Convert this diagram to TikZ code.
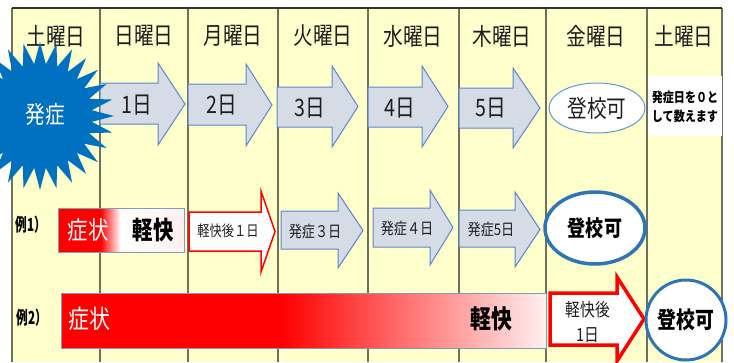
\documentclass[tikz,border=0pt]{standalone}
\usepackage{fontspec}
\setmainfont{Noto Sans CJK JP}
\newfontfamily\cnd[FakeStretch=0.82]{Noto Sans CJK JP}
\newfontfamily\cndx[FakeStretch=0.65]{Noto Sans CJK JP}
\usetikzlibrary{shapes.geometric}
\definecolor{tablebg}{RGB}{255,255,204}
\definecolor{gridc}{RGB}{112,112,96}
\definecolor{topc}{RGB}{50,50,50}
\definecolor{arrowfill}{RGB}{214,220,229}
\definecolor{arrowline}{RGB}{91,135,205}
\definecolor{burstc}{RGB}{0,112,192}
\definecolor{ovalthin}{RGB}{91,155,213}
\definecolor{ovalthick}{RGB}{46,117,182}
\definecolor{txt}{RGB}{30,30,30}
\definecolor{pinkend}{RGB}{255,240,240}
\definecolor{barline}{RGB}{127,157,185}
\pgfdeclarehorizontalshading{exoneshade}{100bp}{color(0bp)=(red); color(41.7bp)=(red); color(49.6bp)=(white); color(75bp)=(pinkend); color(100bp)=(pinkend)}
\pgfdeclarehorizontalshading{extwoshade}{100bp}{color(0bp)=(red); color(47.6bp)=(red); color(75bp)=(pinkend); color(100bp)=(pinkend)}
\newcommand\blkarrow[8]{\draw[#1] (#2,#5) -- (#3,#5) -- (#3,#7) -- (#4,{(#7+#8)/2}) -- (#3,#8) -- (#3,#6) -- (#2,#6) -- cycle;}
\tikzset{
  hdr/.style={text=txt, font=\cnd\fontsize{24}{28}\selectfont, inner sep=0},
  daytxt/.style={text=txt, font=\cnd\fontsize{24}{28}\selectfont, inner sep=0},
  smalltxt/.style={text=txt, font=\cnd\fontsize{16}{18}\selectfont, inner sep=0},
  bluearrow/.style={fill=arrowfill, draw=arrowline, line width=1pt, line join=miter},
  redarrow/.style={fill=white, draw=red, line join=miter},
  rowlabel/.style={text=black, font=\cndx\bfseries\fontsize{18}{20}\selectfont, inner sep=0},
  gridline/.style={draw=gridc, line width=1.3pt}
}
\begin{document}
\begin{tikzpicture}[x=1pt,y=-1pt]
\useasboundingbox (0,0) rectangle (734,362);
\clip (0,0) rectangle (734,362);
\fill[white] (0,0) rectangle (734,362);
% table
\fill[tablebg] (12,8) rectangle (722,362);
\foreach \xx in {12,100,188,278,368,459,546,647,722}
  \draw[gridline] (\xx,8) -- (\xx,362);
\draw[topc, line width=1.3pt] (12,8) -- (722,8);
% headers
\node[hdr] (h1) at (56,36) {土曜日};
\node[hdr] (h2) at (144,36) {日曜日};
\node[hdr] (h3) at (233,36) {月曜日};
\node[hdr] (h4) at (323,36) {火曜日};
\node[hdr] (h5) at (413,36) {水曜日};
\node[hdr] (h6) at (502,36) {木曜日};
\node[hdr] (h7) at (596,36) {金曜日};
\node[hdr] (h8) at (684,36) {土曜日};
% row 1 arrows
\blkarrow{bluearrow}{100}{158}{185}{83}{124}{63}{145}
\blkarrow{bluearrow}{188}{246}{272}{84}{125}{64}{146}
\blkarrow{bluearrow}{277}{332}{358}{87}{127}{66}{147}
\blkarrow{bluearrow}{368}{422}{448}{87}{127}{66}{147}
\blkarrow{bluearrow}{459}{513}{540}{88}{128}{68}{148}
\node[daytxt] (d1) at (137,105) {1日};
\node[daytxt] (d2) at (222,105) {2日};
\node[daytxt] (d3) at (310,108) {3日};
\node[daytxt] (d4) at (400,108) {4日};
\node[daytxt] (d5) at (491,108) {5日};
% burst
\node[star, star points=28, star point ratio=1.42, minimum size=148pt, inner sep=0, fill=burstc] (burst) at (40,116) {};
\node[text=white, font=\cnd\fontsize{24}{28}\selectfont, inner sep=0] (onset) at (45,114) {発症};
% row 1 result
\node[ellipse, draw=ovalthin, line width=1pt, fill=white, minimum width=96pt, minimum height=50pt, inner sep=0] (ok1) at (597,108) {};
\node[text=txt, font=\cnd\fontsize{24}{28}\selectfont, inner sep=0] at (ok1.center) {登校可};
\node[fill=white, minimum width=74pt, minimum height=60pt, inner sep=0, anchor=north west] (note) at (648,76) {};
\node[text=black, font=\cnd\bfseries\fontsize{13.5}{19}\selectfont, align=center, inner sep=0] (notetxt) at (685,107) {発症日を０と\\して数えます};
% example 1
\node[rowlabel] (ex1) at (31,225) {例1）};
\node[draw=barline, line width=1pt, shade, shading=exoneshade, minimum width=126pt, minimum height=44pt, inner sep=0, anchor=north west] (ex1bar) at (58,208) {};
\node[text=white, font=\cnd\fontsize{25}{28}\selectfont, inner sep=0] (ex1s) at (88,230) {症状};
\node[text=black, font=\cnd\bfseries\fontsize{25}{28}\selectfont, inner sep=0] (ex1k) at (153,230) {軽快};
\blkarrow{redarrow, line width=1.5pt}{189}{261}{275}{212}{251}{191}{272}
\node[smalltxt, font=\cnd\fontsize{15}{18}\selectfont] (ex1a) at (228,231) {軽快後１日};
\blkarrow{bluearrow}{281}{338}{363}{211}{249}{193}{268}
\node[smalltxt] (ex1b) at (315,231) {発症３日};
\blkarrow{bluearrow}{373}{430}{453}{208}{247}{190}{265}
\node[smalltxt] (ex1c) at (407,228) {発症４日};
\blkarrow{bluearrow}{459}{515}{540}{210}{247}{192}{267}
\node[smalltxt] (ex1d) at (491,229) {発症5日};
\node[ellipse, draw=ovalthick, line width=3.5pt, fill=white, minimum width=100pt, minimum height=72pt, inner sep=0] (ok2) at (595,228) {};
\node[text=black, font=\cnd\bfseries\fontsize{22}{26}\selectfont, inner sep=0] at (ok2.center) {登校可};
% example 2
\node[rowlabel] (ex2) at (32,318) {例2）};
\node[draw=barline, line width=1pt, shade, shading=extwoshade, minimum width=485pt, minimum height=55pt, inner sep=0, anchor=north west] (ex2bar) at (61,293) {};
\node[text=white, font=\cnd\fontsize{25.5}{28}\selectfont, inner sep=0] (ex2s) at (89,319) {症状};
\node[text=black, font=\cnd\bfseries\fontsize{25.5}{28}\selectfont, inner sep=0] (ex2k) at (491,319) {軽快};
\blkarrow{redarrow, line width=3.5pt}{550}{617}{644}{293}{345}{277}{361}
\node[text=txt, font=\cnd\fontsize{18}{25}\selectfont, align=center, inner sep=0] (ex2a) at (588,322) {軽快後\\1日};
\node[circle, draw=ovalthick, line width=3pt, fill=white, minimum size=80pt, inner sep=0] (ok3) at (686,320) {};
\node[text=black, font=\cnd\bfseries\fontsize{23}{26}\selectfont, inner sep=0] at (ok3.center) {登校可};
\end{tikzpicture}
\end{document}
